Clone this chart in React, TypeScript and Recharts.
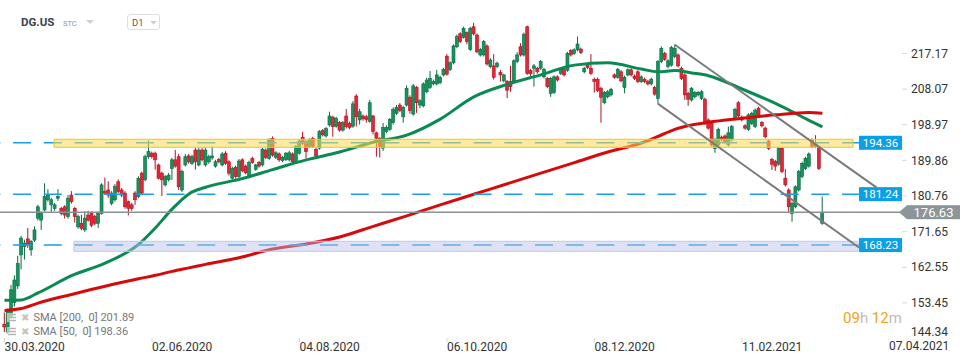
import React from 'react';
import { ComposedChart, Bar, Line, XAxis, YAxis, ReferenceLine, ReferenceArea } from 'recharts';

// [open, high, low, close] per trading day starting 30.03.2020
const candles: number[][] = [
  [148, 151, 146, 147.3], [146, 152, 145.5, 151.5], [150, 158, 149.5, 156.8], [153.5, 160.5, 152.5, 159.3],
  [157.8, 165.5, 157, 163.5], [165.7, 170.6, 162, 170], [167.8, 169.6, 164.5, 168.7], [169.8, 172.6, 167.5, 168.3],
  [167, 169.5, 165.5, 169.1], [169.5, 173, 169, 172.1], [175.1, 178.5, 174.5, 178], [174.6, 176.8, 172.1, 176.3],
  [177.2, 184, 176.8, 180.6], [179.8, 182.5, 179.3, 181], [178.5, 180.3, 176.5, 179.8], [177.6, 179, 177, 178.5],
  [180.2, 182.5, 179.5, 180.6], [177.6, 178, 175.8, 176.3], [178, 178.4, 175, 175.9], [175.5, 181, 175, 180.2],
  [181, 182, 178.8, 179.3], [177.6, 178, 174, 175.5], [172.9, 176, 172.4, 175.5], [173.8, 176, 172, 172.5],
  [172.1, 176.8, 171.6, 175.1], [175.9, 177, 174.2, 174.6], [176.3, 176.8, 172.8, 173.3], [175.5, 176, 173.3, 173.8],
  [173.8, 176.8, 172.6, 176.3], [176.3, 184, 176, 183.6], [181.9, 185.5, 181, 181.5], [182.3, 184.5, 180.3, 181],
  [178.9, 182, 178.4, 181.5], [179.8, 183.8, 179.3, 183.2], [184.4, 185, 181.5, 181.9], [182.3, 182.8, 180.5, 181],
  [181.5, 182, 177.5, 178], [179.3, 179.6, 175.8, 177.6], [178.5, 179, 177, 177.6], [181.5, 182, 178.5, 179.8],
  [180.6, 185.8, 180.2, 185.3], [186.6, 187, 181, 181.5], [184.9, 191.3, 184.5, 190.8], [190.8, 195, 190.3, 192.1],
  [191.7, 192.1, 190.3, 190.8], [191.7, 192.1, 187.5, 190], [188.7, 189, 185, 185.3], [186.6, 187, 180.8, 184.9],
  [183.6, 186.1, 183.2, 185.7], [184.9, 186.6, 184.5, 186.1], [187.8, 190.5, 184.9, 190.0], [190.0, 192.5, 188, 188.4],
  [190.8, 191.5, 182.3, 183.1], [182.3, 187.5, 181.8, 187.0], [188.7, 191.5, 188.3, 190.8], [191, 191.5, 189, 189.5],
  [189.1, 191.3, 188.7, 190.8], [192.5, 193, 187.5, 189.5], [188.7, 193, 188.3, 192.5], [192.5, 193, 189.6, 190],
  [188.7, 193, 188.3, 192.5], [189.5, 191.3, 189, 190.8], [190.5, 193.4, 190, 191], [188.4, 190, 188, 189.5],
  [190.1, 190.5, 189.1, 189.5], [188.7, 192, 188.3, 191.5], [191.7, 192.2, 188.7, 189.1], [189.5, 189.9, 186, 186.6],
  [185.3, 188.3, 184.9, 187.8], [188.1, 188.5, 185.2, 185.7], [185.7, 190.2, 185.3, 189.7], [190, 190.4, 186.8, 187.2],
  [188.4, 188.8, 186.3, 186.7], [185.7, 189.8, 185.3, 189.3], [190.4, 190.8, 189, 189.3], [187.6, 189, 187.2, 188.7],
  [189.3, 189.7, 188, 188.4], [188.7, 193.1, 188.3, 192.7], [192.5, 192.9, 190.2, 190.6], [190.4, 195.5, 190, 195.1],
  [195.5, 196, 190.8, 191.2], [190.6, 192.2, 190.2, 191.8], [191.5, 191.9, 189.5, 190], [189.8, 191, 189.4, 190.6],
  [190.1, 192, 189.7, 191.7], [190, 192.3, 189.6, 191.8], [191.5, 191.9, 189, 189.5], [189.5, 193.8, 189, 193.4],
  [191.7, 195.2, 191.3, 194.8], [195.8, 197.2, 193.8, 194.2], [194.6, 195, 190.4, 192.1], [193.4, 195.5, 193, 195.1],
  [195.5, 195.9, 193, 193.4], [192.7, 193.1, 190.6, 191], [193, 197.6, 192.6, 197.2], [197.5, 197.9, 196, 196.4],
  [196.1, 198.4, 195.7, 198], [198.9, 202.3, 198.5, 201.2], [200.9, 201.3, 195.9, 198.5], [198.6, 201, 198.2, 200.6],
  [199.5, 199.9, 197.2, 197.6], [197.6, 199.9, 197.2, 199.5], [201.2, 203, 198, 198.5], [199.3, 199.8, 197.8, 198.3],
  [198.6, 205, 198.2, 204.3], [206.3, 206.8, 198.5, 201.0], [200.2, 203, 199, 202.3], [201.2, 201.6, 200, 200.5],
  [201.0, 201.5, 199.5, 200.3], [199.8, 205.3, 199.5, 204.6], [201.2, 201.5, 196.5, 197.2], [196.9, 197.2, 190.8, 195.5],
  [195.5, 195.8, 190.6, 193.4], [193, 199.4, 192.3, 198.3], [197.2, 198.8, 196.8, 198.3], [197.8, 200.7, 197.4, 200.3],
  [199.5, 203.4, 199, 202.9], [201.9, 204, 201.5, 203.4], [204, 204.5, 202.2, 202.6], [201.0, 203.8, 199.5, 203.4],
  [204, 209, 203.6, 208.3], [206, 206.5, 201.8, 202.6], [201.7, 209.4, 201.3, 208.9], [208.5, 208.9, 202, 204.6],
  [204, 205.5, 203.2, 205.1], [203.8, 209.8, 203.4, 209.4], [207.4, 211, 207, 210.4], [208.5, 212.7, 208.1, 210.8],
  [209.4, 210.5, 209, 210.0], [209.4, 213, 209, 211.7], [209.7, 211.5, 209.3, 211.1], [211.7, 213.5, 211.3, 213.1],
  [216.5, 217, 211.5, 211.9], [213.1, 215.2, 212.7, 214.8], [214.8, 219.5, 214.4, 219.1], [218.9, 222, 218.5, 221.5],
  [222.2, 222.6, 219.8, 220.2], [221.3, 224, 221, 223.6], [222.5, 222.8, 219.5, 220.2], [218.2, 224, 217.8, 223.6],
  [224.0, 225, 221.8, 222.2], [221.9, 222.3, 217.2, 217.6], [216.8, 218.6, 216.4, 218.2], [216.8, 220.6, 216.4, 220.2],
  [219.1, 219.5, 214.1, 214.5], [213.8, 216, 213.4, 215.5], [214, 217, 210.5, 211.1], [213.8, 215.1, 213.4, 214.7],
  [212.3, 213, 210, 211.7], [210.2, 212, 209.8, 211.7], [210, 210.4, 205.8, 207.8], [210, 214, 207.4, 208.7],
  [210.2, 215.7, 209.8, 215.3], [215.1, 217.5, 214.7, 216.8], [218.9, 219.8, 216.4, 216.8], [216.8, 222.5, 216.4, 222.1],
  [224, 224.3, 211.7, 212.1], [212.8, 213.2, 211, 212.0], [213.4, 214.5, 208.7, 214.0], [213.4, 213.8, 212, 212.5],
  [213.4, 215.5, 213, 215.1], [211.2, 213.5, 210.8, 213.1], [210.8, 211.2, 208.3, 208.7], [207, 211.2, 206.1, 210.8],
  [207.2, 211.6, 206.8, 211.2], [211.2, 211.6, 210, 210.4], [212.1, 213.5, 211.7, 213.1], [213.1, 213.5, 211.3, 211.7],
  [212.9, 217.6, 212.5, 217.2], [217.9, 218.3, 216.4, 216.8], [217.2, 218.5, 216.8, 218.1], [218.1, 221.5, 217.7, 219.6],
  [218.3, 218.7, 217, 217.4], [212.5, 213.8, 212.1, 213.4], [214.2, 214.6, 213.2, 213.6], [213.4, 217, 211.7, 212.1],
  [210.6, 211, 207.2, 210.0], [210.6, 211, 207.3, 207.7], [208.3, 208.7, 199.5, 206], [204.6, 207.6, 204.2, 207.2],
  [206.1, 207.8, 205.7, 207.4], [206.6, 208.4, 206.2, 208], [211.7, 212.1, 210.7, 211.1], [211.1, 213.5, 210.7, 213.1],
  [212.5, 212.9, 209.8, 210.2], [208.5, 211.5, 207, 211.1], [211.7, 213.4, 211.3, 213], [213, 213.4, 211.3, 211.7],
  [211.4, 211.8, 210.4, 210.8], [212.5, 212.9, 209.6, 210], [210, 211.6, 209.6, 211.2], [210.6, 211, 209.6, 210.0],
  [210, 210.4, 209, 209.4], [209.4, 211, 209, 210.6], [208.5, 208.9, 206.4, 206.8], [205.7, 215.5, 204.2, 215.1],
  [215.1, 219, 214.7, 218.5], [217.2, 217.6, 215.3, 215.7], [213.8, 215.7, 213.4, 215.3], [214.2, 219.1, 213.8, 218.7],
  [216.4, 219.5, 216, 218.5], [216.8, 217.2, 213.6, 214], [213.4, 213.8, 210.4, 210.8], [211.7, 212.1, 205.3, 206.6],
  [207, 207.4, 203.8, 205.5], [205.3, 208.6, 204.9, 208.3], [206.1, 207.6, 205.7, 207.2], [206.6, 207.6, 206.2, 207.2],
  [205.7, 207.8, 205.3, 207.4], [205.5, 205.9, 198.9, 199.3], [200.2, 200.6, 197.7, 198.1], [199.3, 199.7, 193.4, 193.8],
  [192.9, 195.6, 191.8, 195.2], [193.8, 198.2, 193.4, 197.8], [195.8, 196.2, 194.7, 195.1], [196.1, 196.5, 194.2, 194.6],
  [193.8, 198.5, 193.4, 196.9], [195.1, 198.9, 194.7, 198.5], [200.6, 203.3, 200.2, 202.9], [204.6, 205, 200.8, 201.2],
  [200.9, 201.3, 199.8, 200.2], [198.7, 199.1, 197.7, 198.1], [197.8, 201.9, 197.4, 201.5], [199.3, 202.3, 198.9, 201.9],
  [198.5, 203.1, 198.1, 202.7], [203.2, 203.6, 201.1, 201.5], [199.5, 199.9, 198.3, 198.7], [198.1, 198.5, 195.5, 195.9],
  [194.8, 195.2, 192.5, 192.9], [190.1, 190.5, 187.4, 188.9], [189.6, 190, 187.2, 188.4], [188.9, 193.3, 188.5, 192.9],
  [192.9, 193.3, 186.6, 187], [185.3, 187.7, 183.2, 183.6], [182.3, 182.7, 176.5, 178], [176.3, 179.3, 174.2, 178.9],
  [178, 183.5, 177.6, 183.1], [182.3, 187.4, 181.9, 187], [185.7, 189.5, 185.3, 189.1], [187.8, 190.8, 187.4, 190.4],
  [188.4, 191.9, 188, 191.5], [195.1, 195.5, 193, 193.4], [193.4, 196.3, 193, 194.1], [193.2, 193.6, 187.4, 187.8],
  [173.8, 180.6, 173.4, 176.63],
];

const smaIdx = [0, 5, 10, 20, 30, 40, 45, 50, 55, 60, 70, 80, 90, 100, 110, 120, 130, 140, 150, 160, 170, 180, 190, 195, 200, 205, 210, 220, 230, 240, 244];
const sma50 = [154.1, 154.2, 156.0, 160.4, 163.6, 168.4, 172.6, 177.4, 181.3, 183.0, 185.0, 187.5, 190.0, 192.0, 194.5, 196.3, 200.4, 206.1, 209.3, 211.7, 214.2, 214.8, 213.2, 212.5, 212.8, 212.2, 211.5, 208.1, 204.4, 200.1, 198.4];
const sma200 = [151.5, 152.0, 153.4, 155.6, 157.7, 159.6, 160.5, 161.5, 162.4, 163.3, 165.0, 167.2, 168.5, 170.3, 173.0, 175.7, 178.5, 181.2, 183.9, 186.6, 189.3, 192.0, 194.3, 196.0, 197.8, 198.9, 199.6, 200.6, 201.5, 202.1, 201.9];

const dateTickIdx = [0, 44, 88, 132, 176, 220];
const dateTickLabels = ['30.03.2020', '02.06.2020', '04.08.2020', '06.10.2020', '08.12.2020', '11.02.2021'];
const currentDate = '07.04.2021';
const priceTicks = [144.34, 153.45, 162.55, 171.65, 180.76, 189.86, 198.97, 208.07, 217.17];
const levels = [194.36, 181.24, 168.23];
const lastPrice = 176.63;
// [fromIndex, toIndex, lowPrice, highPrice]
const yellowZone = [14.8, 253.1, 193.2, 195.25];
const blueZone = [20.7, 254.6, 166.63, 169.19];
// [[index, price], [index, price]]
const upperChannel = [[200.0, 219.4], [260.2, 182.9]];
const lowerChannel = [[195.0, 204.3], [254.9, 167.6]];

const GREEN = '#17935e';
const GREEN_EDGE = '#0b6a42';
const RED = '#e0283a';
const RED_EDGE = '#b3111f';
const LEVEL_BLUE = '#1a9ee8';
const BOX_BLUE = '#0aa0e8';

const data = candles.map((c, i) => ({
  i,
  o: c[0],
  h: c[1],
  l: c[2],
  c: c[3],
  range: [c[2], c[1]],
}));

const sma50Data = smaIdx.map((i, k) => ({ i, v: sma50[k] }));
const sma200Data = smaIdx.map((i, k) => ({ i, v: sma200[k] }));

const Candle = (props: any) => {
  const { x, y, width, height, payload } = props;
  if (!payload || x == null || y == null) return null;
  const { o, h, l, c } = payload;
  const top = Math.min(y, y + height);
  const hgt = Math.abs(height);
  const cx = x + width / 2;
  const up = c >= o;
  const ppu = hgt / (h - l || 1);
  const bodyTop = top + (h - Math.max(o, c)) * ppu;
  const bodyH = Math.max(1, Math.abs(o - c) * ppu);
  return (
    <g>
      <line x1={cx} x2={cx} y1={top} y2={top + hgt} stroke={up ? GREEN_EDGE : RED_EDGE} strokeWidth={1} />
      <rect x={cx - 1.5} y={bodyTop} width={3} height={bodyH} fill={up ? GREEN : RED} stroke={up ? GREEN_EDGE : RED_EDGE} strokeWidth={0.6} />
    </g>
  );
};

const XTick = (p: any) => {
  const idx = dateTickIdx.indexOf(p.payload.value);
  return (
    <g>
      <line x1={p.x} x2={p.x} y1={p.y - 4} y2={p.y} stroke="#d8d8d8" strokeWidth={1} />
      <text x={p.x} y={p.y + 9} textAnchor="start" fontSize={12} fill="#333" fontFamily="Roboto">{dateTickLabels[idx]}</text>
    </g>
  );
};

const YTick = (p: any) => {
  const base = p.x - 2;
  const isBottom = p.payload.value === priceTicks[0];
  return (
    <g>
      {!isBottom && <line x1={base + 42} x2={base + 47} y1={p.y} y2={p.y} stroke="#d8d8d8" strokeWidth={1} />}
      <text x={base + 51} y={p.y + (isBottom ? -6.5 : 0)} dy="0.35em" textAnchor="start" fontSize={12} fill="#333" fontFamily="Roboto">{p.payload.value.toFixed(2)}</text>
    </g>
  );
};

const LevelBox = ({ viewBox, value }: any) => {
  if (!viewBox) return null;
  const right = viewBox.x + viewBox.width;
  const y = viewBox.y;
  return (
    <g>
      <rect x={right - 1} y={y - 7} width={43} height={14} fill={BOX_BLUE} />
      <text x={right + 20.5} y={y} dy="0.36em" textAnchor="middle" fontSize={11.5} fill="#fff" fontFamily="Roboto">{value.toFixed(2)}</text>
    </g>
  );
};

const PriceBox = ({ viewBox, value }: any) => {
  if (!viewBox) return null;
  const right = viewBox.x + viewBox.width;
  const y = viewBox.y;
  return (
    <g>
      <line x1={right} x2={right + 40} y1={y} y2={y} stroke="#8a9296" strokeWidth={1.5} />
      <polygon points={`${right + 39},${y} ${right + 47},${y - 7} ${right + 47},${y + 7}`} fill="#8d9599" />
      <rect x={right + 47} y={y - 7} width={53} height={14} fill="#8d9599" />
      <text x={right + 73.5} y={y} dy="0.36em" textAnchor="middle" fontSize={13} fill="#fff" fontFamily="Roboto">{value.toFixed(2)}</text>
    </g>
  );
};

const LegendRow = ({ top, text }: { top: number; text: string }) => (
  <div style={{ position: 'absolute', left: 7, top, height: 12, display: 'flex', alignItems: 'center', fontFamily: 'Roboto', fontSize: 11, color: '#777', whiteSpace: 'pre' }}>
    <svg width={10} height={9} style={{ marginRight: 4 }}>
      <rect x={0} y={0} width={10} height={9} fill="rgba(255,255,255,0.6)" />
      <line x1={1} x2={9} y1={1.5} y2={1.5} stroke="#b5b5b5" strokeWidth={1.5} />
      <line x1={1} x2={9} y1={4.5} y2={4.5} stroke="#b5b5b5" strokeWidth={1.5} />
      <line x1={1} x2={9} y1={7.5} y2={7.5} stroke="#b5b5b5" strokeWidth={1.5} />
    </svg>
    <span style={{ color: '#c4c4c4', fontSize: 10, marginRight: 4, fontFamily: 'DejaVu Sans' }}>✖</span>
    <span>{text}</span>
  </div>
);

export default function App() {
  return (
    <div style={{ position: 'absolute', left: 0, top: 0, width: 970, height: 364, background: '#fff', overflow: 'hidden' }}>
      <ComposedChart width={970} height={364} data={data} margin={{ top: 0, right: 0, bottom: 0, left: 0 }}>
        <XAxis
          type="number"
          dataKey="i"
          domain={[-1.3425, 255.22]}
          allowDataOverflow
          ticks={dateTickIdx}
          interval={0}
          tick={<XTick />}
          tickLine={false}
          axisLine={false}
          tickSize={0}
          height={24}
        />
        <YAxis
          orientation="right"
          domain={[143.97, 230.84]}
          allowDataOverflow
          ticks={priceTicks}
          interval={0}
          tick={<YTick />}
          tickLine={false}
          axisLine={false}
          tickSize={0}
          width={110}
        />
        <Bar dataKey="range" barSize={3} shape={<Candle />} isAnimationActive={false} zIndex={300} />
        <Line data={sma50Data} dataKey="v" type="monotone" stroke="#0a8a53" strokeWidth={3} dot={false} activeDot={false} isAnimationActive={false} zIndex={400} />
        <Line data={sma200Data} dataKey="v" type="monotone" stroke="#d60a0a" strokeWidth={3} dot={false} activeDot={false} isAnimationActive={false} zIndex={400} />
        {levels.map((v) => (
          <ReferenceLine
            key={v}
            y={v}
            stroke={LEVEL_BLUE}
            strokeWidth={1.5}
            strokeDasharray="18 12.7"
            zIndex={450}
            label={{ content: (p: any) => <LevelBox viewBox={p.viewBox} value={v} /> }}
          />
        ))}
        <ReferenceLine
          y={lastPrice}
          stroke="#8a9296"
          strokeWidth={1.5}
          zIndex={450}
          label={{ content: (p: any) => <PriceBox viewBox={p.viewBox} value={lastPrice} /> }}
        />
        <ReferenceArea x1={yellowZone[0]} x2={yellowZone[1]} y1={yellowZone[2]} y2={yellowZone[3]} fill="#fcd94e" fillOpacity={0.55} stroke="#f2c526" strokeWidth={1} ifOverflow="visible" zIndex={500} />
        <ReferenceArea x1={blueZone[0]} x2={blueZone[1]} y1={blueZone[2]} y2={blueZone[3]} fill="#b9bfe8" fillOpacity={0.45} stroke="#c2c6ea" strokeWidth={1} ifOverflow="visible" zIndex={500} />
        <ReferenceLine
          segment={[{ x: upperChannel[0][0], y: upperChannel[0][1] }, { x: upperChannel[1][0], y: upperChannel[1][1] }]}
          stroke="#7a7a7a"
          strokeWidth={2}
          ifOverflow="visible"
          zIndex={600}
        />
        <ReferenceLine
          segment={[{ x: lowerChannel[0][0], y: lowerChannel[0][1] }, { x: lowerChannel[1][0], y: lowerChannel[1][1] }]}
          stroke="#7a7a7a"
          strokeWidth={2}
          ifOverflow="visible"
          zIndex={600}
        />
      </ComposedChart>

      {/* header */}
      <div style={{ position: 'absolute', left: 21, top: 15, fontFamily: 'Roboto', fontWeight: 700, fontSize: 11.5, color: '#37434e' }}>DG.US</div>
      <div style={{ position: 'absolute', left: 63, top: 19, fontFamily: 'Roboto', fontSize: 7.5, color: '#8795a8' }}>STC</div>
      <svg style={{ position: 'absolute', left: 86, top: 20 }} width={8} height={4}>
        <polygon points="0,0 8,0 4,4" fill="#cfcfcf" />
      </svg>
      <div style={{ position: 'absolute', left: 127, top: 14, width: 33, height: 16, border: '1px solid #dedede', borderRadius: 3, boxSizing: 'border-box' }} />
      <div style={{ position: 'absolute', left: 132, top: 17, fontFamily: 'Roboto', fontSize: 9.5, color: '#555' }}>D1</div>
      <svg style={{ position: 'absolute', left: 150, top: 21, }} width={7} height={4}>
        <polygon points="0,0 7,0 3.5,3.5" fill="#cfcfcf" />
      </svg>

      {/* legend */}
      <LegendRow top={311} text="SMA [200,  0] 201.89" />
      <LegendRow top={325} text="SMA [50,  0] 198.36" />

      {/* countdown */}
      <div style={{ position: 'absolute', left: 843, top: 309, fontFamily: 'Roboto', fontSize: 15, whiteSpace: 'pre' }}>
        <span style={{ color: '#f5a020' }}>09</span>
        <span style={{ color: '#bdbdbd' }}>h </span>
        <span style={{ color: '#f5a020' }}>12</span>
        <span style={{ color: '#bdbdbd' }}>m</span>
      </div>

      {/* current date */}
      <div style={{ position: 'absolute', left: 889, top: 340, lineHeight: '12px', fontFamily: 'Roboto', fontSize: 12, color: '#333' }}>{currentDate}</div>
    </div>
  );
}
